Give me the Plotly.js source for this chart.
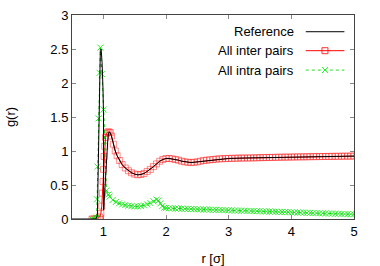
<!DOCTYPE html>
<html><head><meta charset="utf-8">
<script src="https://cdn.plot.ly/plotly-3.0.1.min.js"></script>
<style>html,body{margin:0;padding:0;background:#fff}#c{width:380px;height:266px}</style>
</head><body><div id="c"></div>
<script>
// Reference (black line)
var refR = [0.5,0.88,0.905,0.915,0.925,0.94,0.952,0.965,0.98,0.995,1.003,1.005,1.02,1.04,1.06,1.075,1.09,1.11,1.13,1.16,1.19,1.22,1.26,1.30,1.35,1.40,1.45,1.50,1.55,1.60,1.65,1.70,1.75,1.80,1.85,1.90,1.95,2.00,2.05,2.10,2.15,2.20,2.25,2.30,2.35,2.40,2.45,2.50,2.55,2.60,2.65,2.70,2.75,2.80,2.85,2.90,2.95,3.00,3.25,3.50,3.75,4.00,4.25,4.50,4.75,5.00];
var refG = [0,0,0.05,0.5,1.3,2.1,2.48,2.5,2.3,1.9,1.5,0.13,0.38,0.72,1.05,1.22,1.28,1.27,1.22,1.10,1.00,0.93,0.86,0.80,0.75,0.71,0.68,0.66,0.65,0.655,0.67,0.70,0.73,0.77,0.81,0.85,0.875,0.89,0.89,0.885,0.875,0.865,0.85,0.84,0.835,0.83,0.835,0.84,0.85,0.86,0.865,0.87,0.875,0.88,0.885,0.885,0.89,0.89,0.897,0.902,0.907,0.911,0.915,0.919,0.922,0.925];
// All inter pairs (red, squares)
var interR = [0.82,0.85,0.88,0.91,0.94,0.96,0.975,0.985,0.995,1.003,1.012,1.022,1.035,1.05,1.07,1.09,1.11,1.13,1.16,1.19,1.22,1.26,1.30,1.35,1.40,1.45,1.50,1.55,1.60,1.65,1.70,1.75,1.80,1.85,1.90,1.95,2.00,2.05,2.10,2.15,2.20,2.25,2.30,2.35,2.40,2.45,2.50,2.55,2.60,2.65,2.70,2.75,2.80,2.85,2.90,2.95,3.00,3.05,3.10,3.15,3.20,3.25,3.30,3.35,3.40,3.45,3.50,3.55,3.60,3.65,3.70,3.75,3.80,3.85,3.90,3.95,4.00,4.05,4.10,4.15,4.20,4.25,4.30,4.35,4.40,4.45,4.50,4.55,4.60,4.65,4.70,4.75,4.80,4.85,4.90,4.95,5.00];
var interG = [0,0,0,0.01,0.03,0.08,0.19,0.38,0.55,0.73,0.92,1.07,1.20,1.26,1.28,1.28,1.27,1.22,1.10,1.00,0.93,0.86,0.80,0.75,0.71,0.68,0.66,0.65,0.655,0.67,0.70,0.73,0.77,0.81,0.85,0.875,0.89,0.89,0.885,0.875,0.865,0.85,0.84,0.835,0.83,0.835,0.84,0.85,0.86,0.865,0.87,0.875,0.88,0.885,0.885,0.89,0.89,0.892,0.893,0.895,0.896,0.897,0.897,0.898,0.899,0.90,0.902,0.903,0.904,0.905,0.906,0.907,0.908,0.909,0.91,0.91,0.911,0.912,0.913,0.914,0.914,0.915,0.916,0.917,0.917,0.918,0.919,0.92,0.92,0.921,0.922,0.922,0.923,0.924,0.924,0.925,0.925];
// All intra pairs (green, crosses)
var intraR = [0.82,0.85,0.88,0.895,0.90,0.909,0.925,0.941,0.952,0.979,1.005,1.048,1.08,1.10,1.15,1.20,1.25,1.30,1.35,1.40,1.45,1.50,1.55,1.60,1.65,1.70,1.75,1.80,1.85,1.88,1.91,1.94,1.97,2.00,2.05,2.10,2.15,2.20,2.25,2.30,2.35,2.40,2.45,2.50,2.55,2.60,2.65,2.70,2.75,2.80,2.85,2.90,2.95,3.00,3.05,3.10,3.15,3.20,3.25,3.30,3.35,3.40,3.45,3.50,3.55,3.60,3.65,3.70,3.75,3.80,3.85,3.90,3.95,4.00,4.05,4.10,4.15,4.20,4.25,4.30,4.35,4.40,4.45,4.50,4.55,4.60,4.65,4.70,4.75,4.80,4.85,4.90,4.95,5.00];
var intraG = [0,0,0,0.02,0.29,0.77,1.48,2.15,2.52,2.13,1.61,0.42,0.36,0.33,0.28,0.25,0.23,0.215,0.205,0.195,0.19,0.185,0.185,0.19,0.2,0.215,0.235,0.26,0.285,0.27,0.23,0.19,0.165,0.16,0.158,0.156,0.155,0.154,0.152,0.15,0.149,0.147,0.145,0.144,0.142,0.14,0.139,0.137,0.135,0.134,0.132,0.131,0.13,0.128,0.127,0.125,0.124,0.122,0.121,0.119,0.118,0.117,0.115,0.114,0.112,0.111,0.11,0.108,0.107,0.105,0.104,0.103,0.10,0.099,0.097,0.096,0.094,0.093,0.091,0.09,0.088,0.087,0.085,0.084,0.082,0.081,0.079,0.078,0.076,0.075,0.073,0.072,0.07,0.069];
var font = {family:'"Liberation Sans", Arial, sans-serif', size:13, color:'#000'};
var traces = [
  {x:interR, y:interG, type:'scatter', mode:'lines+markers', line:{color:'#ff0000', width:1},
   marker:{symbol:'square-open', size:6, color:'rgba(255,0,0,0.45)', line:{width:1}}},
  {x:intraR, y:intraG, type:'scatter', mode:'lines+markers', line:{color:'#00cc00', width:1, dash:'dot'},
   marker:{symbol:'x-thin-open', size:6, color:'rgba(20,230,20,0.85)', line:{width:1, color:'rgba(20,230,20,0.85)'}}},
  {x:refR, y:refG, type:'scatter', mode:'lines', line:{color:'#000', width:1}}
];
var axBase = {showline:true, linecolor:'#444', linewidth:1, mirror:'ticks', ticks:'inside', ticklen:4,
  tickcolor:'#888', showgrid:false, zeroline:false, tickfont:font};
var layout = {
  width:380, height:266, margin:{l:72, r:26, t:15, b:47}, showlegend:false,
  paper_bgcolor:'#fff', plot_bgcolor:'#fff', font:font,
  xaxis:Object.assign({}, axBase, {range:[0.5,5], tickvals:[1,2,3,4,5], ticktext:['1','2','3','4','5'],
     title:{text:'r [σ]', font:font, standoff:17}}),
  yaxis:Object.assign({}, axBase, {range:[0,3], tickvals:[0,0.5,1,1.5,2,2.5,3], ticktext:['0','0.5','1','1.5','2','2.5','3'],
     title:{text:'g(r)', font:font, standoff:31}}),
  annotations:[
    {xref:'paper', yref:'paper', x:0.794, y:0.918, xanchor:'right', yanchor:'middle', text:'Reference', showarrow:false, font:font},
    {xref:'paper', yref:'paper', x:0.794, y:0.825, xanchor:'right', yanchor:'middle', text:'All inter pairs', showarrow:false, font:font},
    {xref:'paper', yref:'paper', x:0.794, y:0.730, xanchor:'right', yanchor:'middle', text:'All intra pairs', showarrow:false, font:font}
  ],
  shapes:[
    {type:'line', xref:'paper', yref:'paper', x0:0.829, x1:0.966, y0:0.918, y1:0.918, line:{color:'#000', width:1}},
    {type:'line', xref:'paper', yref:'paper', x0:0.829, x1:0.966, y0:0.825, y1:0.825, line:{color:'#ff0000', width:1}},
    {type:'rect', xref:'paper', yref:'paper', xsizemode:'pixel', ysizemode:'pixel', xanchor:0.897, yanchor:0.825,
      x0:-3, x1:3, y0:-3, y1:3, line:{color:'rgba(255,0,0,0.8)', width:1}},
    {type:'line', xref:'paper', yref:'paper', x0:0.829, x1:0.966, y0:0.730, y1:0.730, line:{color:'#22dd22', width:1, dash:'dot'}},
    {type:'line', xref:'paper', yref:'paper', xsizemode:'pixel', ysizemode:'pixel', xanchor:0.897, yanchor:0.730,
      x0:-3, x1:3, y0:-3, y1:3, line:{color:'#22ee22', width:1}},
    {type:'line', xref:'paper', yref:'paper', xsizemode:'pixel', ysizemode:'pixel', xanchor:0.897, yanchor:0.730,
      x0:-3, x1:3, y0:3, y1:-3, line:{color:'#22ee22', width:1}}
  ]
};
Plotly.newPlot('c', traces, layout, {staticPlot:true, displayModeBar:false});
</script></body></html>
